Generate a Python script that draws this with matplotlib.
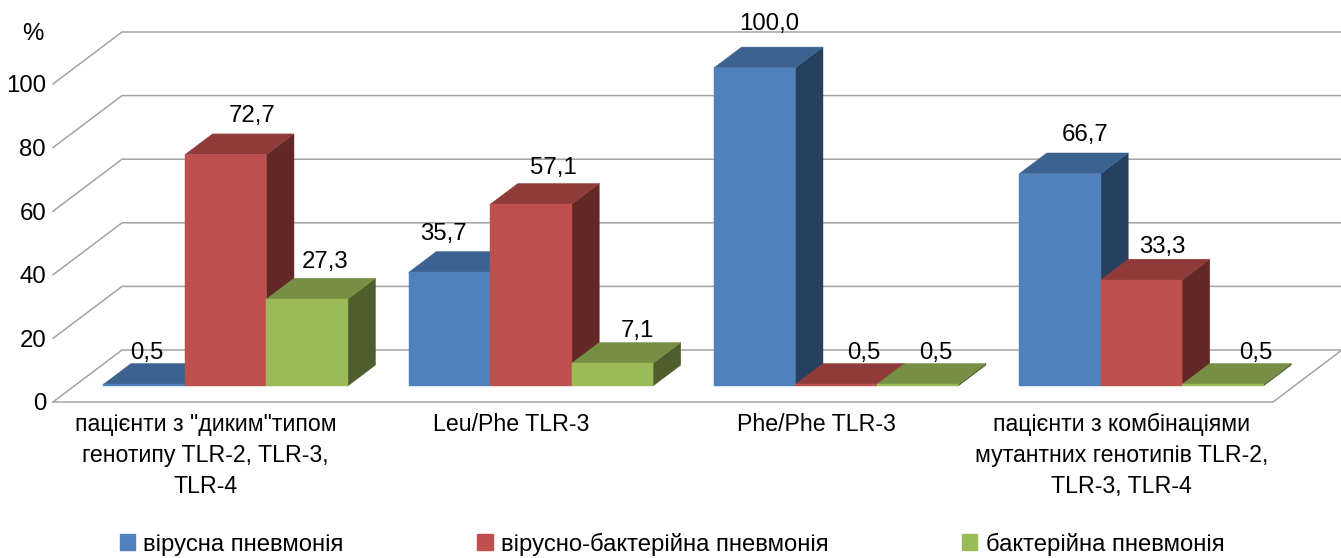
import matplotlib
matplotlib.use("Agg")
import matplotlib.pyplot as plt
from matplotlib.patches import Polygon, Patch

plt.rcParams["font.family"] = ["Liberation Sans", "DejaVu Sans"]

categories = ['пацієнти з "диким"типом\nгенотипу TLR-2, TLR-3,\nTLR-4',
              "Leu/Phe TLR-3",
              "Phe/Phe TLR-3",
              "пацієнти з комбінаціями\nмутантних генотипів TLR-2,\nTLR-3, TLR-4"]
series_names = ["вірусна пневмонія", "вірусно-бактерійна пневмонія", "бактерійна пневмонія"]
viral = [0.5, 35.7, 100.0, 66.7]
mixed = [72.7, 57.1, 0.5, 33.3]
bacterial = [27.3, 7.1, 0.5, 0.5]
y_ticks = [0, 20, 40, 60, 80, 100]

front_colors = ["#4F81BD", "#C0504D", "#9BBB59"]
top_colors = ["#3C6290", "#8F3B39", "#778F45"]
side_colors = ["#27405F", "#622826", "#4F5E2D"]

# label shifts from the middle of the bar's front top edge, in pixels
label_shift = [[(3, 31), (26, 39), (18, 37)],
               [(-6, 38), (22, 36), (25, 32)],
               [(15, 44), (28, 31), (18, 31)],
               [(25, 39), (21, 33), (33, 31)]]

W, H = 1341, 558
cat_w = 305.25   # px per category
unit = 3.18      # px per percent
left, right, top, bottom = 53, 1338, 32, 402
dx = 69 / cat_w           # depth shift in x units
dy = 52 / unit            # depth shift in y units
bar_w = 81.5 / cat_w
gap = 29 / cat_w
d0, d1 = 0.31, 0.71       # bar extent along the depth

fig = plt.figure(figsize=(W / 100, H / 100), dpi=100)
ax = fig.add_axes([left / W, 1 - bottom / H, (right - left) / W, (bottom - top) / H])
ax.set_xlim(0, (right - left) / cat_w)
ax.set_ylim(0, (bottom - top) / unit)
for s in ax.spines.values():
    s.set_visible(False)


def pt(x, y, d):
    return (x + d * dx, y + d * dy)


grid = "#A3A3A3"
n = len(categories)
floor_end = 1220 / cat_w
for v in y_ticks:
    ax.plot(*zip(pt(0, v, 0), pt(0, v, 1), pt(floor_end, v, 1)), color=grid, lw=1.1, zorder=1, clip_on=False)
ax.plot(*zip(pt(0, 0, 0), pt(floor_end, 0, 0), pt(floor_end, 0, 1)), color=grid, lw=1.1, zorder=1, clip_on=False)

for i in range(n):
    for j, vals in enumerate([viral, mixed, bacterial]):
        v = vals[i]
        x0 = i + gap + j * bar_w
        x1 = x0 + bar_w
        z = 3 + i * 3 + j
        ax.add_patch(Polygon([pt(x1, 0, d0), pt(x1, 0, d1), pt(x1, v, d1), pt(x1, v, d0)],
                             fc=side_colors[j], ec=side_colors[j], lw=0.3, zorder=z))
        ax.add_patch(Polygon([pt(x0, v, d0), pt(x1, v, d0), pt(x1, v, d1), pt(x0, v, d1)],
                             fc=top_colors[j], ec=top_colors[j], lw=0.3, zorder=z))
        ax.add_patch(Polygon([pt(x0, 0, d0), pt(x1, 0, d0), pt(x1, v, d0), pt(x0, v, d0)],
                             fc=front_colors[j], ec=front_colors[j], lw=0.3, zorder=z))
        fx, fy = pt((x0 + x1) / 2, v, d0)
        ax.annotate(f"{v:.1f}".replace(".", ","), (fx, fy), xytext=label_shift[i][j],
                    textcoords="offset pixels", ha="center", va="center",
                    fontsize=17.3, color="black", zorder=30, annotation_clip=False)

ax.set_yticks(y_ticks)
ax.set_yticklabels([str(v) for v in y_ticks])
ax.tick_params(axis="y", length=0, pad=5, labelsize=17.3)
ax.set_xticks([i + 0.5 for i in range(n)])
ax.set_xticklabels(categories, linespacing=1.43)
ax.tick_params(axis="x", length=0, pad=8, labelsize=16.7)

ax.text(33 / W, 1 - 34 / H, "%", transform=fig.transFigure, fontsize=17.3, ha="center", va="center")

handles = [Patch(fc=c, ec=c) for c in front_colors]
fig.legend(handles, series_names, loc="center", bbox_to_anchor=(672 / W, 1 - 544 / H), ncol=3,
           frameon=False, fontsize=17.2, handlelength=0.64, handleheight=0.64,
           handletextpad=0.34, columnspacing=5.6, borderpad=0, borderaxespad=0)

fig.savefig("out.png", dpi=100)
